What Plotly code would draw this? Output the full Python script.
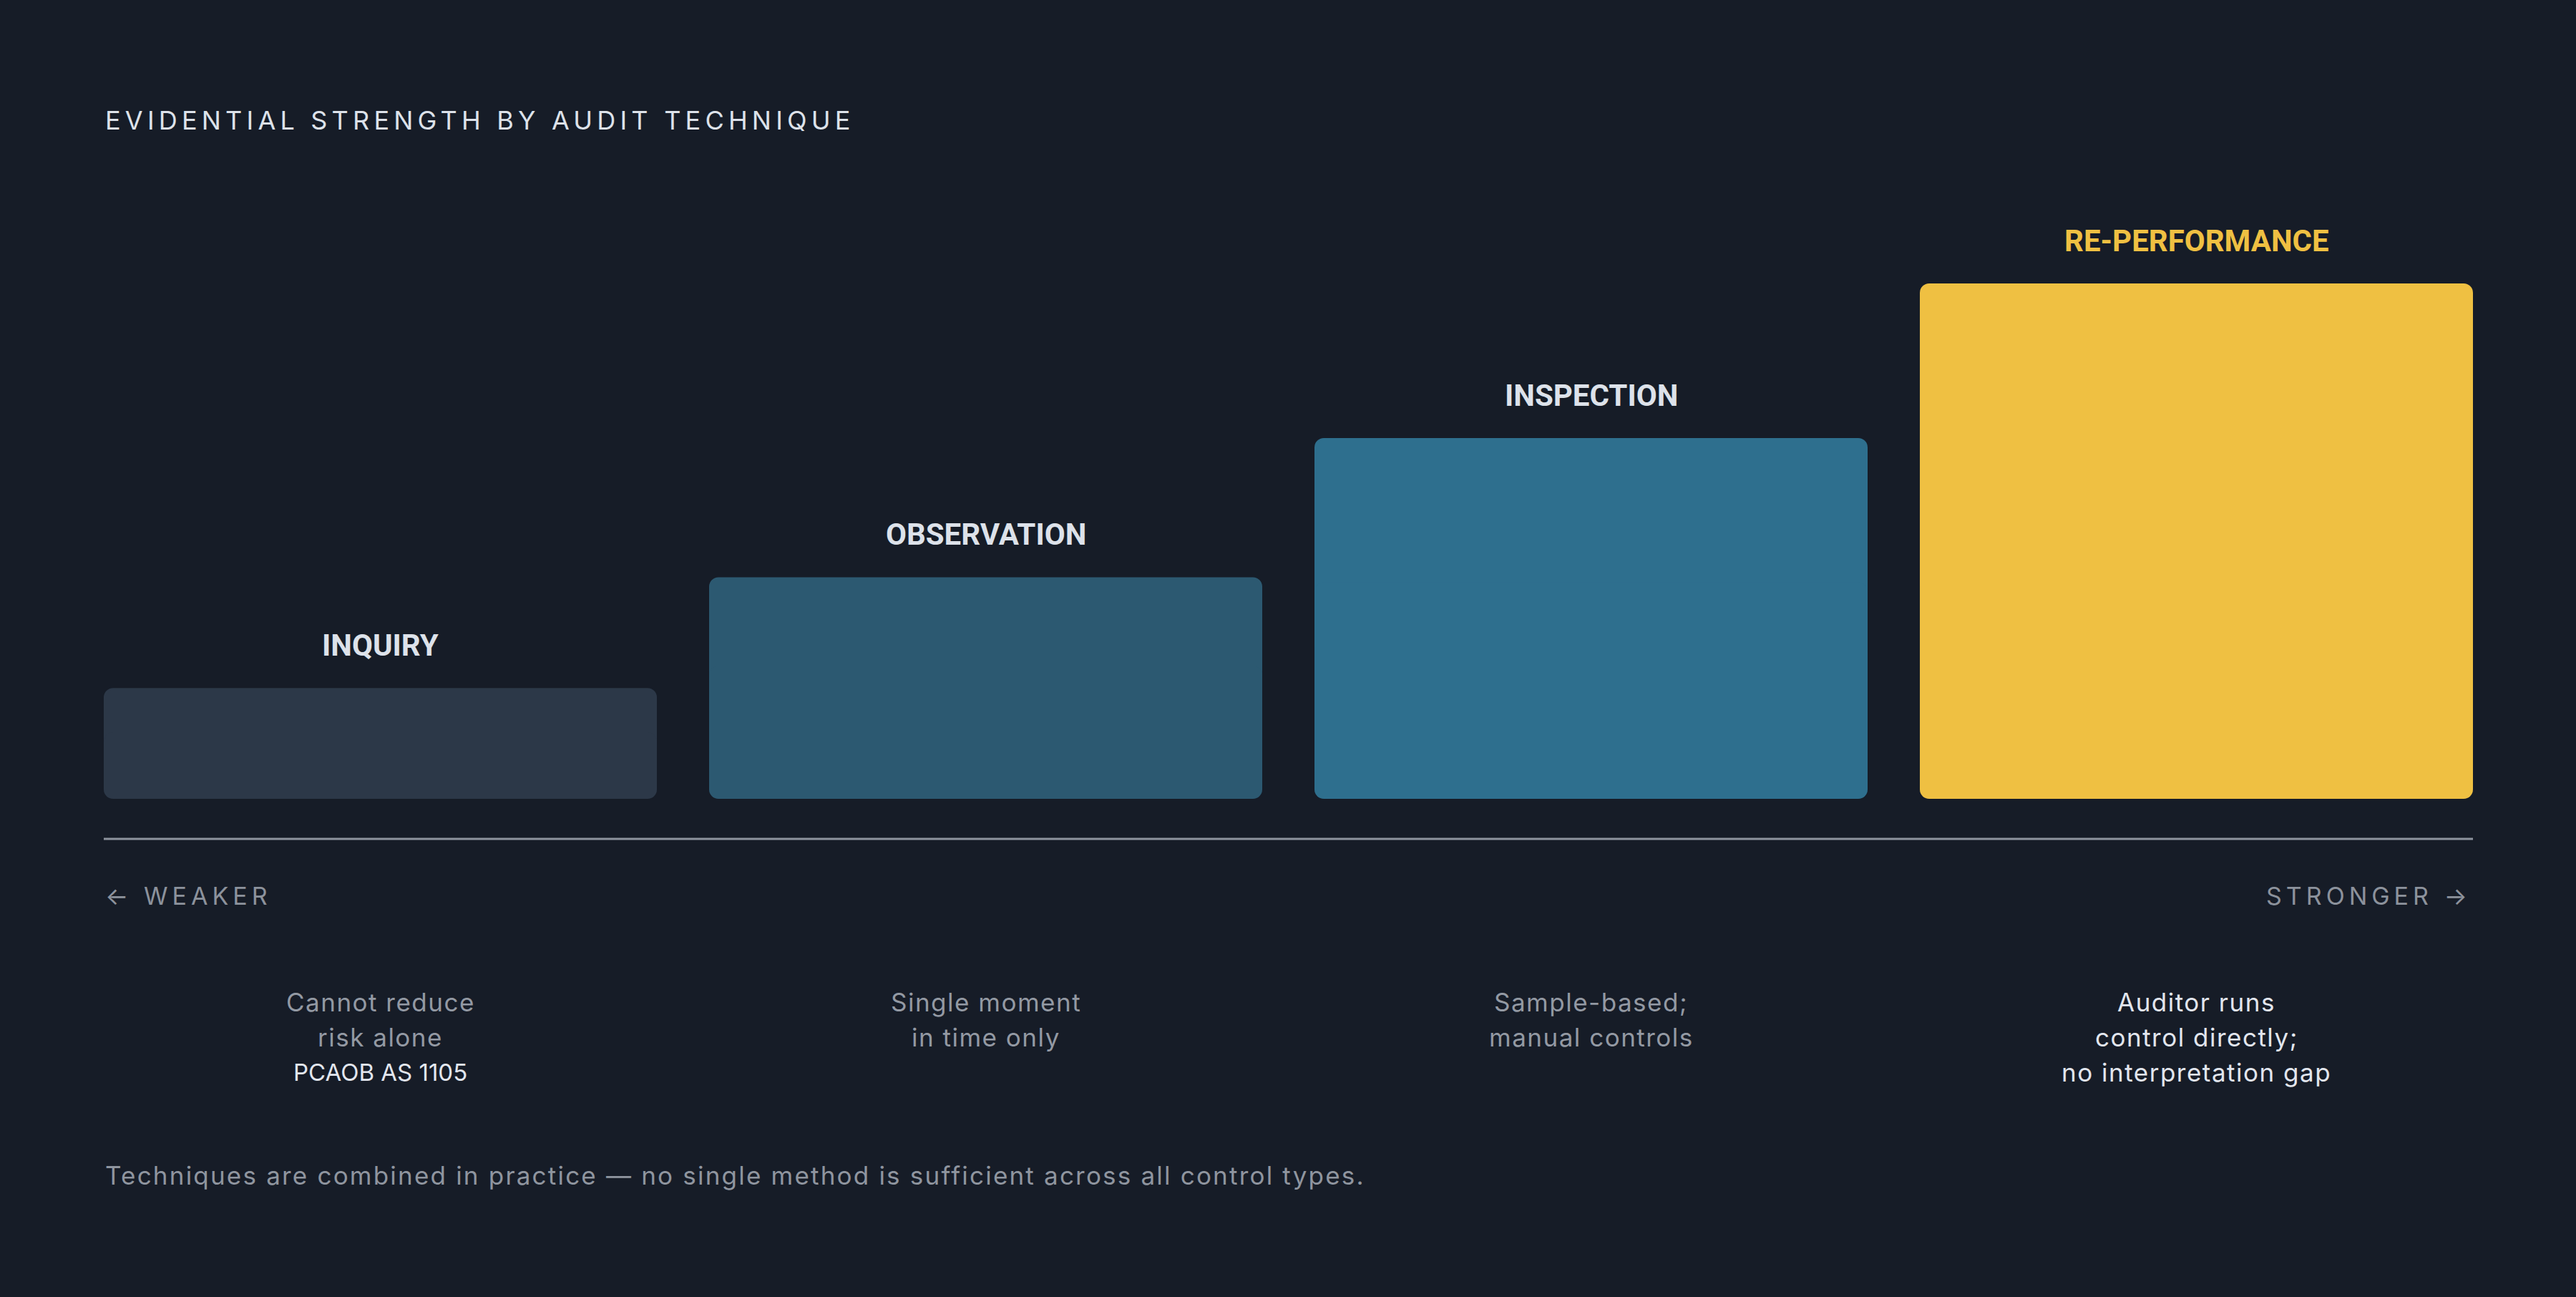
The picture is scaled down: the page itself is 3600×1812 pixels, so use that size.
import plotly.graph_objects as go

# ---------------- data ----------------
techniques = ["INQUIRY", "OBSERVATION", "INSPECTION", "RE-PERFORMANCE"]
strength = [21.5, 43, 70, 100]
bar_colors = ["#2c3848", "#2c5971", "#2e6f8e", "#efc042"]
label_colors = ["#dde2ea", "#dde2ea", "#dde2ea", "#efc042"]
notes = [
    ["Cannot reduce", "risk alone"],
    ["Single moment", "in time only"],
    ["Sample-based;", "manual controls"],
    ["Auditor runs", "control directly;", "no interpretation gap"],
]
note_colors = ["#9399a3", "#9399a3", "#9399a3", "#e2e6ee"]
citations = ["PCAOB AS 1105", "", "", ""]
title_text = "EVIDENTIAL STRENGTH BY AUDIT TECHNIQUE"
weaker_text = "← WEAKER"
stronger_text = "STRONGER →"
footnote = "Techniques are combined in practice — no single method is sufficient across all control types."

# ---------------- layout constants ----------------
W, H = 3600, 1812
ML, MR, MT, MB = 145, 144, 396, 696
PLOT_H = H - MT - MB
BG = "#161c27"
BAR_W = 0.9137
RADIUS = 13


def py(p):
    """pixel row -> paper y"""
    return (H - MB - p) / PLOT_H


def spaced(t, ls):
    return f'<span style="letter-spacing:{ls}px">{t}</span>'


fig = go.Figure()
idx = list(range(len(techniques)))
# upper part with rounded top
fig.add_trace(go.Bar(
    x=idx, y=[v * 0.6 for v in strength], base=[v * 0.4 for v in strength],
    marker=dict(color=bar_colors, line=dict(width=0), cornerradius=RADIUS),
    width=BAR_W, hoverinfo="skip", showlegend=False,
))
# lower part with rounded bottom
fig.add_trace(go.Bar(
    x=idx, y=[-v * 0.6 for v in strength], base=[v * 0.6 for v in strength],
    marker=dict(color=bar_colors, line=dict(width=0), cornerradius=RADIUS),
    width=BAR_W, hoverinfo="skip", showlegend=False,
))

ann = []
for i, (name, v) in enumerate(zip(techniques, strength)):
    ann.append(dict(
        x=i, y=v, xref="x", yref="y", text=f"<b>{name}</b>", showarrow=False,
        xanchor="center", yanchor="middle", yshift=60,
        font=dict(family="Roboto", size=42, color=label_colors[i]),
    ))
    for j, line in enumerate(notes[i]):
        ann.append(dict(
            x=i, y=py(1400 + 49 * j), xref="x", yref="paper", text=spaced(line, 1.5),
            showarrow=False, xanchor="center", yanchor="middle",
            font=dict(family="Inter", size=35, color=note_colors[i]),
        ))
    if citations[i]:
        ann.append(dict(
            x=i, y=py(1400 + 49 * len(notes[i])), xref="x", yref="paper",
            text=citations[i], showarrow=False, xanchor="center", yanchor="middle",
            font=dict(family="Inter", size=33, color="#e2e6ee"),
        ))

ann.append(dict(
    x=0, y=py(168), xref="paper", yref="paper", text=spaced(title_text, 6.2),
    showarrow=False, xanchor="left", yanchor="middle",
    font=dict(family="Inter", size=36, color="#dde2ea"),
))
ann.append(dict(
    x=0, y=py(1251), xref="paper", yref="paper", text=spaced(weaker_text, 6),
    showarrow=False, xanchor="left", yanchor="middle",
    font=dict(family="Inter", size=34, color="#8c929c"),
))
ann.append(dict(
    x=1, y=py(1251), xref="paper", yref="paper", text=spaced(stronger_text, 6),
    showarrow=False, xanchor="right", yanchor="middle",
    font=dict(family="Inter", size=34, color="#8c929c"),
))
ann.append(dict(
    x=0, y=py(1642), xref="paper", yref="paper", text=spaced(footnote, 2.2),
    showarrow=False, xanchor="left", yanchor="middle",
    font=dict(family="Inter", size=35, color="#8f959f"),
))

fig.update_layout(
    width=W, height=H,
    margin=dict(l=ML, r=MR, t=MT, b=MB, pad=0),
    paper_bgcolor=BG, plot_bgcolor=BG,
    barmode="overlay",
    xaxis=dict(range=[-BAR_W / 2, len(techniques) - 1 + BAR_W / 2], visible=False, fixedrange=True),
    yaxis=dict(range=[0, 100], visible=False, fixedrange=True),
    annotations=ann,
    shapes=[dict(
        type="line", xref="paper", yref="paper", x0=0, x1=1, y0=py(1172), y1=py(1172),
        line=dict(color="#8d939e", width=3),
    )],
    showlegend=False,
)

fig.write_html(
    "out.html",
    config={"displayModeBar": False},
    post_script="document.body.style.margin='0';document.body.style.overflow='hidden';"
                "document.body.style.background='" + BG + "';",
)
